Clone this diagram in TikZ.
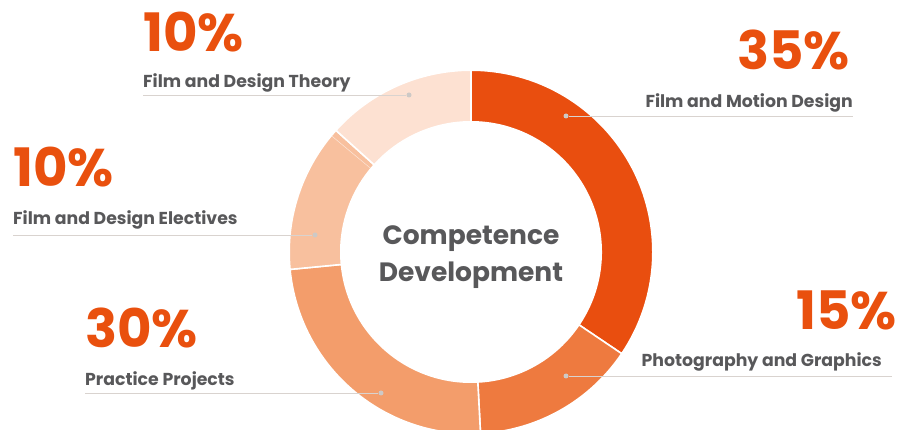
\documentclass[tikz,border=0pt]{standalone}
\usepackage{fontspec}
\setmainfont{Poppins}
\definecolor{motion}{HTML}{E94E0F}
\definecolor{photo}{HTML}{EE7A3F}
\definecolor{practice}{HTML}{F39D6B}
\definecolor{elective}{HTML}{F8C09E}
\definecolor{theory}{HTML}{FDE1D2}
\definecolor{pctorange}{HTML}{E9500E}
\definecolor{txtgray}{HTML}{58585A}
\definecolor{leadgray}{HTML}{D9D3CF}
\definecolor{dotgray}{HTML}{CDC9C6}
\tikzset{
  slice/.style={draw=white, line width=1.6pt},
  leader/.style={draw=leadgray, line width=0.8pt},
  leaddot/.style={circle, fill=dotgray, inner sep=0pt, minimum size=5pt},
  pct/.style={text=pctorange, inner sep=0pt, font=\bfseries\fontsize{53}{53}\selectfont},
  lbl/.style={text=txtgray, inner sep=0pt, font=\bfseries\fontsize{17.3}{17.3}\selectfont},
  ctr/.style={text=txtgray, inner sep=0pt, font=\bfseries\fontsize{26.5}{26.5}\selectfont}
}
\begin{document}
\begin{tikzpicture}[x=1pt,y=1pt]
\useasboundingbox (0,0) rectangle (912,430);
\begin{scope}[shift={(471,178)}]
\foreach \a/\b/\c in {90/-34/motion, -34/-87/photo, -87/-174.5/practice, -174.5/-222/elective, -222/-270/theory}
  \filldraw[fill=\c, slice] (\a:181.8) arc[start angle=\a, end angle=\b, radius=181.8] -- (\b:130.2) arc[start angle=\b, end angle=\a, radius=130.2] -- cycle;
\draw[white, opacity=0.6, line width=0.5pt] (140.2:130.5) -- (140.2:181.5);
\end{scope}
\node[ctr, anchor=base] (comp) at (471,185) {Competence};
\node[ctr, anchor=base] (dev) at (471,148) {Development};
\node[pct, anchor=base west] (thpct) at (143,378) {10\%};
\node[lbl, anchor=base west] (thlbl) at (143,342) {Film and Design Theory};
\coordinate (thline) at (143,335);
\node[leaddot] (thdot) at (409,335) {};
\draw[leader] (thline) -- (thdot);
\node[pct, anchor=base east] (mopct) at (850,360) {35\%};
\node[lbl, anchor=base east] (molbl) at (853,322) {Film and Motion Design};
\coordinate (moline) at (853,314);
\node[leaddot] (modot) at (566,314) {};
\draw[leader] (modot) -- (moline);
\node[pct, anchor=base west] (elpct) at (13,243) {10\%};
\node[lbl, anchor=base west] (ellbl) at (13,205) {Film and Design Electives};
\coordinate (elline) at (13,195);
\node[leaddot] (eldot) at (315,195) {};
\draw[leader] (elline) -- (eldot);
\node[pct, anchor=base east] (phpct) at (897,100) {15\%};
\node[lbl, anchor=base east] (phlbl) at (882,63) {Photography and Graphics};
\coordinate (phline) at (892,54);
\node[leaddot] (phdot) at (566,54) {};
\draw[leader] (phdot) -- (phline);
\node[pct, anchor=base west] (prpct) at (85,82) {30\%};
\node[lbl, anchor=base west] (prlbl) at (85,44) {Practice Projects};
\coordinate (prline) at (85,37);
\node[leaddot] (prdot) at (381,37) {};
\draw[leader] (prline) -- (prdot);
\end{tikzpicture}
\end{document}
